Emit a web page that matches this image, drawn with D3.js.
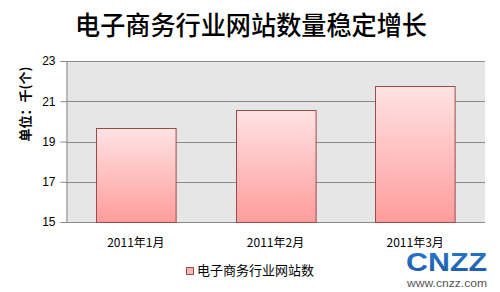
<!DOCTYPE html>
<html><head><meta charset="utf-8">
<script src="https://cdn.jsdelivr.net/npm/d3@7"></script>
<style>body{margin:0;background:#fff;}svg{display:block;}</style>
</head><body>
<svg id="c" width="500" height="292"></svg>
<script>
const categories = ["2011年1月", "2011年2月", "2011年3月"];
const values = [19.65, 20.56, 21.76];
const yTicks = [15, 17, 19, 21, 23];
const title = "电子商务行业网站数量稳定增长";
const seriesName = "电子商务行业网站数";
const yLabel = "单位：千(个)";

const svg = d3.select("#c");
const font = "'Noto Sans CJK SC', 'Liberation Sans', sans-serif";
const m = {l: 66, r: 15, t: 61, b: 70};
const W = 500, H = 292;
const x = d3.scaleBand().domain(categories).range([m.l, W - m.r]).paddingInner(0.43).paddingOuter(0.215);
const y = d3.scaleLinear().domain([15, 23]).range([H - m.b, m.t]);

const defs = svg.append("defs");
const g = defs.append("linearGradient").attr("id", "bg").attr("x1", 0).attr("y1", 0).attr("x2", 0).attr("y2", 1);
g.append("stop").attr("offset", "0%").attr("stop-color", "#ffe3e3");
g.append("stop").attr("offset", "100%").attr("stop-color", "#ff9c9c");
const lg = defs.append("linearGradient").attr("id", "lg").attr("x1", 0).attr("y1", 0).attr("x2", 0).attr("y2", 1);
lg.append("stop").attr("offset", "0%").attr("stop-color", "#2a78cc");
lg.append("stop").attr("offset", "100%").attr("stop-color", "#1c5aa8");

// plot background
svg.append("rect").attr("x", m.l).attr("y", y(23)).attr("width", W - m.r - m.l).attr("height", y(15) - y(23)).attr("fill", "#e6e6e6");

// gridlines
svg.append("g").selectAll("line").data(yTicks).join("line")
  .attr("x1", m.l).attr("x2", W - m.r).attr("y1", d => Math.round(y(d)) + 0.5).attr("y2", d => Math.round(y(d)) + 0.5)
  .attr("stroke", "#8a8a8a").attr("stroke-width", 1);

// y axis
const ya = svg.append("g").attr("transform", `translate(${m.l + 0.5},0)`)
  .call(d3.axisLeft(y).tickValues(yTicks).tickSize(6).tickPadding(5));
ya.select(".domain").attr("stroke", "#8a8a8a");
ya.selectAll(".tick line").attr("stroke", "#8a8a8a");
ya.selectAll(".tick text").attr("font-family", "'Liberation Sans', Arial, sans-serif").attr("font-size", 12).attr("fill", "#000");

// bars
svg.append("g").selectAll("rect").data(values).join("rect")
  .attr("x", (d, i) => Math.round(x(categories[i])) + 0.5)
  .attr("y", d => Math.round(y(d)) + 0.5)
  .attr("width", x.bandwidth())
  .attr("height", d => y(15) - Math.round(y(d)))
  .attr("fill", "url(#bg)").attr("stroke", "#9e4a4a").attr("stroke-width", 1);

// x labels
svg.append("g").selectAll("text").data(categories).join("text")
  .attr("x", d => x(d) + x.bandwidth() / 2).attr("y", 247)
  .attr("text-anchor", "middle").attr("font-family", font).attr("font-size", 12).attr("fill", "#000")
  .text(d => d);

// title
svg.append("text").attr("x", 251).attr("y", 35).attr("text-anchor", "middle")
  .attr("font-family", font).attr("font-size", 26).attr("font-weight", 500).attr("fill", "#000")
  .attr("textLength", 352).attr("lengthAdjust", "spacingAndGlyphs")
  .text(title);

// y label
svg.append("text").attr("transform", "translate(30,104) rotate(-90)").attr("text-anchor", "middle")
  .attr("font-family", font).attr("font-size", 13).attr("font-weight", "bold").attr("fill", "#000")
  .text(yLabel);

// legend
svg.append("rect").attr("x", 186.5).attr("y", 267.5).attr("width", 7).attr("height", 7)
  .attr("fill", "#f4b8b8").attr("stroke", "#9e4a4a");
svg.append("text").attr("x", 197).attr("y", 275).attr("font-family", font).attr("font-size", 13).attr("fill", "#000")
  .text(seriesName);

// CNZZ logo
svg.append("text").attr("x", 406).attr("y", 271).attr("font-family", "'Liberation Sans', Arial, sans-serif")
  .attr("font-size", 25).attr("font-weight", "bold").attr("fill", "url(#lg)")
  .attr("textLength", 81).attr("lengthAdjust", "spacingAndGlyphs").text("CNZZ");
svg.append("text").attr("x", 407).attr("y", 287).attr("font-family", "'Liberation Sans', Arial, sans-serif")
  .attr("font-size", 10).attr("fill", "#555")
  .attr("textLength", 80).attr("lengthAdjust", "spacingAndGlyphs").text("www.cnzz.com");
</script>
</body></html>
